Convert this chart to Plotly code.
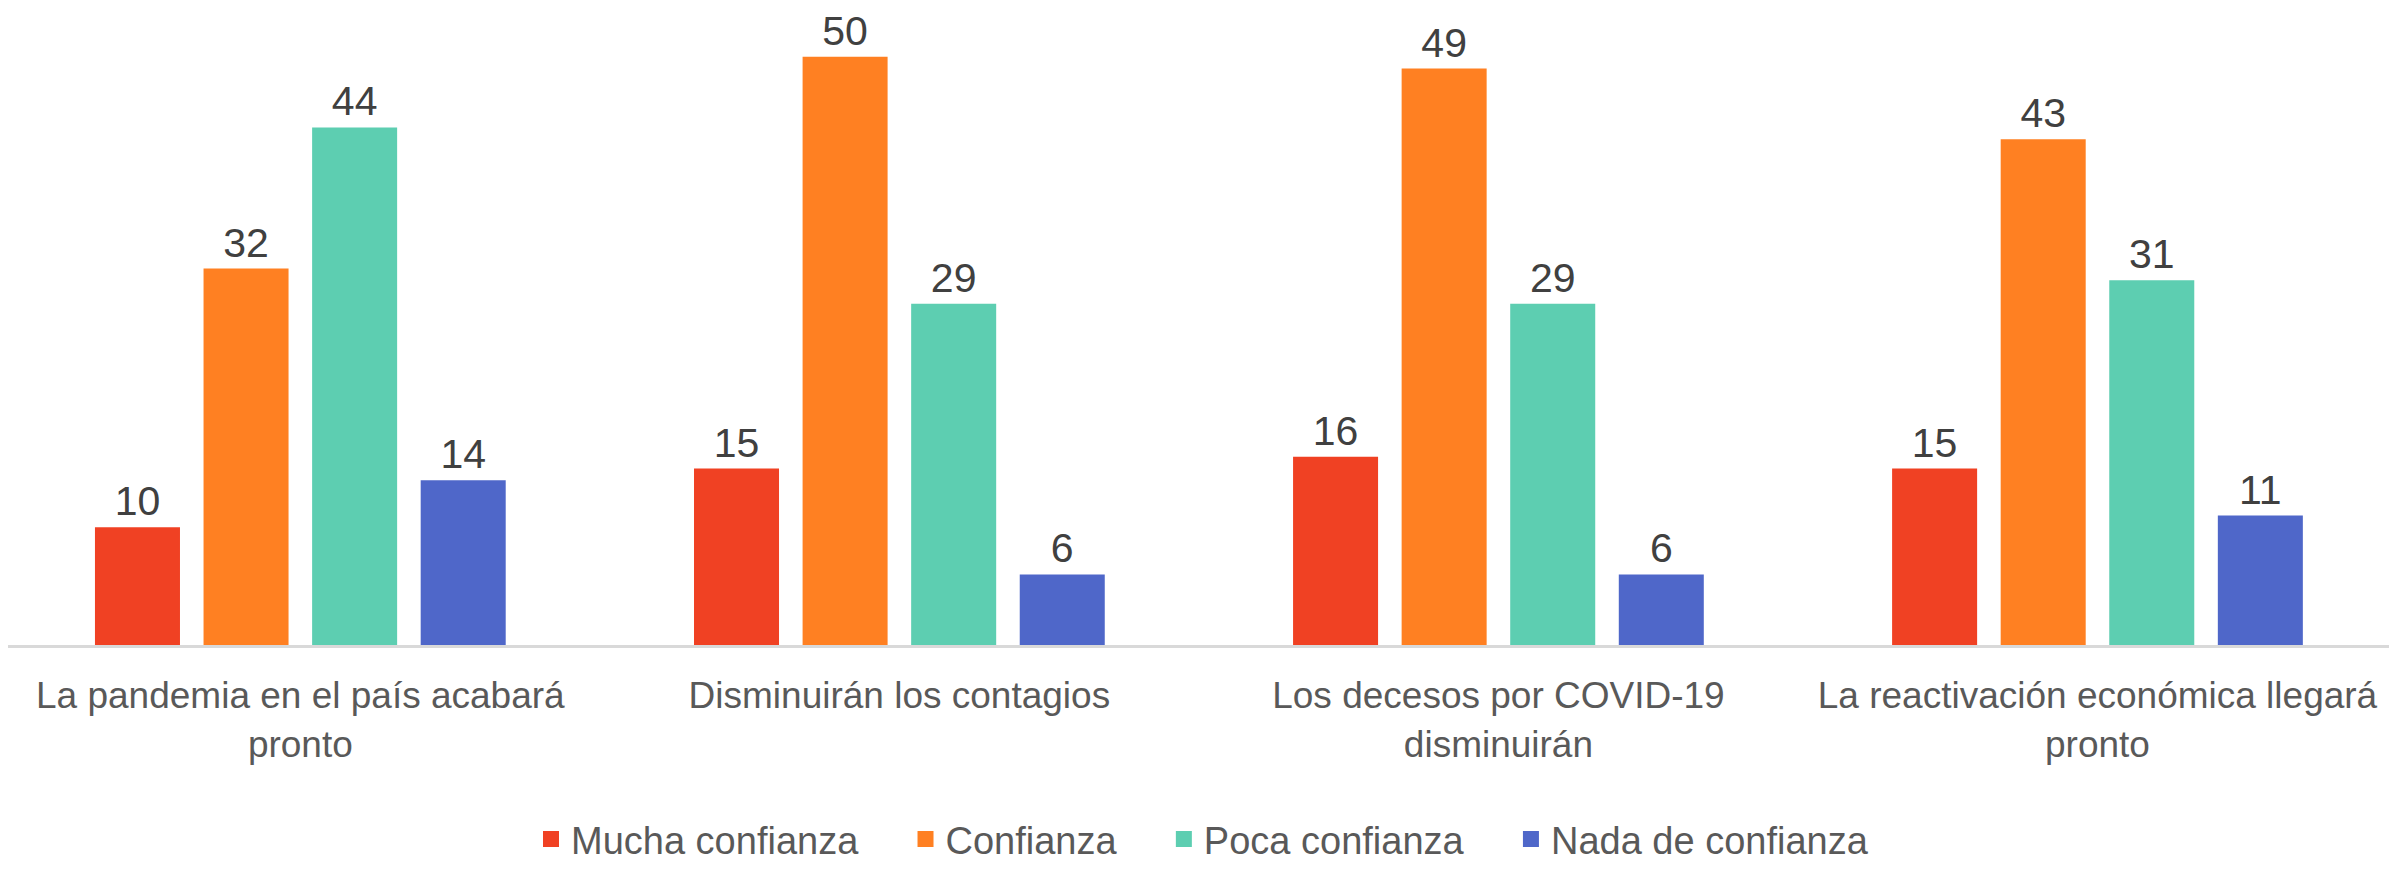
import plotly.graph_objects as go

categories = [
    "La pandemia en el país acabará<br>pronto",
    "Disminuirán los contagios",
    "Los decesos por COVID-19<br>disminuirán",
    "La reactivación económica llegará<br>pronto",
]
series_names = ["Mucha confianza", "Confianza", "Poca confianza", "Nada de confianza"]
mucha = [10, 15, 16, 15]
confianza = [32, 50, 49, 43]
poca = [44, 29, 29, 31]
nada = [14, 6, 6, 11]
colors = ["#F04123", "#FF8022", "#5DCEB1", "#4F67C9"]

FONT = "Liberation Sans"
PAD = "\u00a0" * 4

fig = go.Figure()
for name, vals, col in zip(series_names, [mucha, confianza, poca, nada], colors):
    fig.add_trace(go.Bar(
        x=categories, y=vals, name=name, showlegend=False,
        marker=dict(color=col, line=dict(width=0)),
        text=vals, textposition="outside", cliponaxis=False,
        textfont=dict(family=FONT, size=41, color="#404040"),
    ))
# legend entries with larger square swatches
for i, (name, col) in enumerate(zip(series_names, colors)):
    label = name + (PAD if i < len(series_names) - 1 else "")
    fig.add_trace(go.Scatter(
        x=[None], y=[None], mode="markers", name=label,
        marker=dict(symbol="square", size=21, color=col),
    ))

fig.update_layout(
    width=2389, height=863,
    paper_bgcolor="white", plot_bgcolor="white",
    margin=dict(l=0, r=0, t=10, b=224),
    barmode="group", bargap=0.275, bargroupgap=0.217,
    font=dict(family=FONT, size=38, color="#595959"),
    showlegend=True,
    legend=dict(orientation="h", x=0.5, xanchor="center", y=-0.31, yanchor="middle",
                font=dict(family=FONT, size=38, color="#595959"), itemwidth=30,
                traceorder="normal"),
    xaxis=dict(showline=True, linecolor="#D9D9D9", linewidth=3, ticks="",
               range=[-0.488, 3.5],
               automargin=False, showgrid=False, ticklabelstandoff=16,
               tickfont=dict(family=FONT, size=37, color="#595959")),
    yaxis=dict(range=[0, 53.3], visible=False, showgrid=False, zeroline=False,
               automargin=False),
)

fig.write_html("out.html")
